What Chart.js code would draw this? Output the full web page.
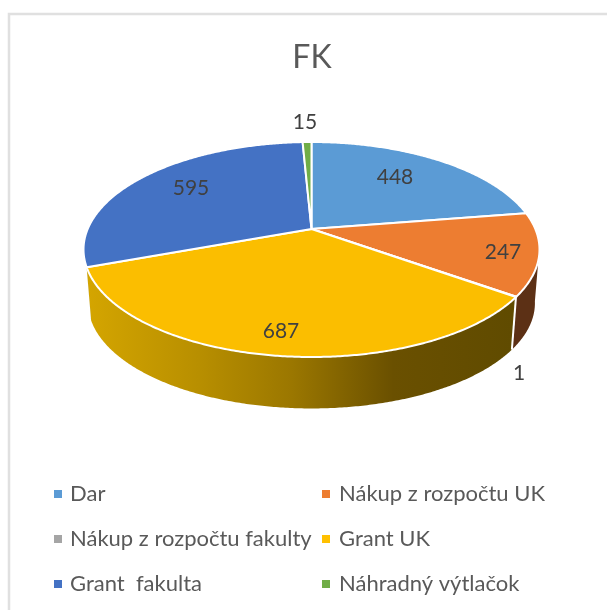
<!DOCTYPE html>
<html><head><meta charset="utf-8">
<style>html,body{margin:0;padding:0;background:#fff}#w{width:607px;height:610px;position:relative}</style>
<script src="https://cdn.jsdelivr.net/npm/chart.js@4"></script>
</head><body><div id="w"><canvas id="c" width="607" height="610"></canvas></div>
<script>
const titleText = 'FK';
const categories = ['Dar','Nákup z rozpočtu UK','Nákup z rozpočtu fakulty','Grant UK','Grant  fakulta','Náhradný výtlačok'];
const values = [448,247,1,687,595,15];
const colors = ['#5B9BD5','#ED7D31','#A5A5A5','#FBBE00','#4472C4','#70AD47'];
const sideColors = ['#4a7cab','#5C3015','#777777','gold','#32558f','#4f7a33'];
const labelCenters = [[395,177],[503,252],[519,373],[281,331],[191,188],[305,122]];

const P = {cx:311.5, cy:229, A:223.8, B:103.6, p:0.1907, shrink:0.98, drop:54, visFrom:100, visTo:249.9};
function proj(ang, r, bottom){
  const u=Math.cos(ang)*r, v=Math.sin(ang)*r, w=1-P.p*v;
  let X=P.A*u/w, Y=P.B*v/w;
  if(bottom){X*=P.shrink;Y=Y*P.shrink+P.drop;}
  return [P.cx+X,P.cy+Y];
}
function arcPts(a0,a1,bottom){
  const n=Math.max(2,Math.ceil(Math.abs(a1-a0)/(Math.PI/360))), pts=[];
  for(let i=0;i<=n;i++)pts.push(proj(a0+(a1-a0)*i/n,1,bottom));
  return pts;
}
function trace(ctx,pts){pts.forEach((q,i)=>i?ctx.lineTo(q[0],q[1]):ctx.moveTo(q[0],q[1]));ctx.closePath();}

const pie3d = {
  id:'pie3d',
  beforeDraw(chart){
    const {ctx}=chart;
    ctx.save();ctx.strokeStyle='#E0E0E0';ctx.lineWidth=2.5;
    ctx.beginPath();ctx.moveTo(9,610);ctx.lineTo(9,14);ctx.lineTo(607,14);ctx.stroke();ctx.restore();
  },
  beforeDatasetDraw(chart){
    const {ctx}=chart, arcs=chart.getDatasetMeta(0).data, off=Math.PI/2;
    ctx.save();
    const g=ctx.createLinearGradient(88,0,512,0);
    g.addColorStop(0,'#D4A500');g.addColorStop(.26,'#B88F00');g.addColorStop(.48,'#9B7700');g.addColorStop(.72,'#6A5000');g.addColorStop(1,'#604B00');
    ctx.lineJoin='round';
    arcs.forEach((el,i)=>{
      const a0=Math.max(el.startAngle,P.visFrom*Math.PI/180-off), a1=Math.min(el.endAngle,P.visTo*Math.PI/180-off);
      if(a1<=a0)return;
      const pts=arcPts(a0,a1,false).concat(arcPts(a1,a0,true));
      ctx.beginPath();trace(ctx,pts);
      ctx.fillStyle=sideColors[i]==='gold'?g:sideColors[i];ctx.fill();
    });
    ctx.strokeStyle='#fff';ctx.lineWidth=2;
    const sep=proj(arcs[2].endAngle,1,false), sepB=proj(arcs[2].endAngle,1,true);
    ctx.beginPath();ctx.moveTo(sep[0],sep[1]);ctx.lineTo(sepB[0],sepB[1]);ctx.stroke();
    arcs.forEach((el,i)=>{
      const pts=[[P.cx,P.cy]].concat(arcPts(el.startAngle,el.endAngle,false));
      ctx.beginPath();trace(ctx,pts);ctx.fillStyle=colors[i];ctx.fill();
      ctx.stroke();
    });
    ctx.restore();
    return false;
  },
  afterDraw(chart){
    const {ctx}=chart;
    ctx.save();
    ctx.textBaseline='middle';ctx.textAlign='center';
    ctx.font='21px Lato';ctx.fillStyle='#404040';
    values.forEach((v,i)=>ctx.fillText(String(v),labelCenters[i][0],labelCenters[i][1]));
    ctx.textAlign='left';ctx.font='22px Lato';
    categories.forEach((t,i)=>{
      const col=i%2,row=Math.floor(i/2);
      const y=494+row*45, x=col?322:54;
      ctx.fillStyle=colors[i]==='#FBBE00'?'#FFC000':colors[i];
      ctx.fillRect(x,y-4,8,8);
      ctx.fillStyle='#595959';
      ctx.fillText(t,x+(col?17:16),y);
    });
    ctx.restore();
  }
};
new Chart(document.getElementById('c'),{
  type:'pie',
  data:{labels:categories,datasets:[{data:values,backgroundColor:colors,borderColor:'#fff',borderWidth:2}]},
  options:{
    responsive:false,animation:false,
    layout:{padding:{left:17,top:0,bottom:120,right:0}},
    plugins:{
      legend:{display:false},tooltip:{enabled:false},
      title:{display:true,text:titleText,color:'#595959',font:{family:'Lato',size:32,weight:'normal'},padding:{top:38,bottom:10}}
    }
  },
  plugins:[pie3d]
});
</script></body></html>
